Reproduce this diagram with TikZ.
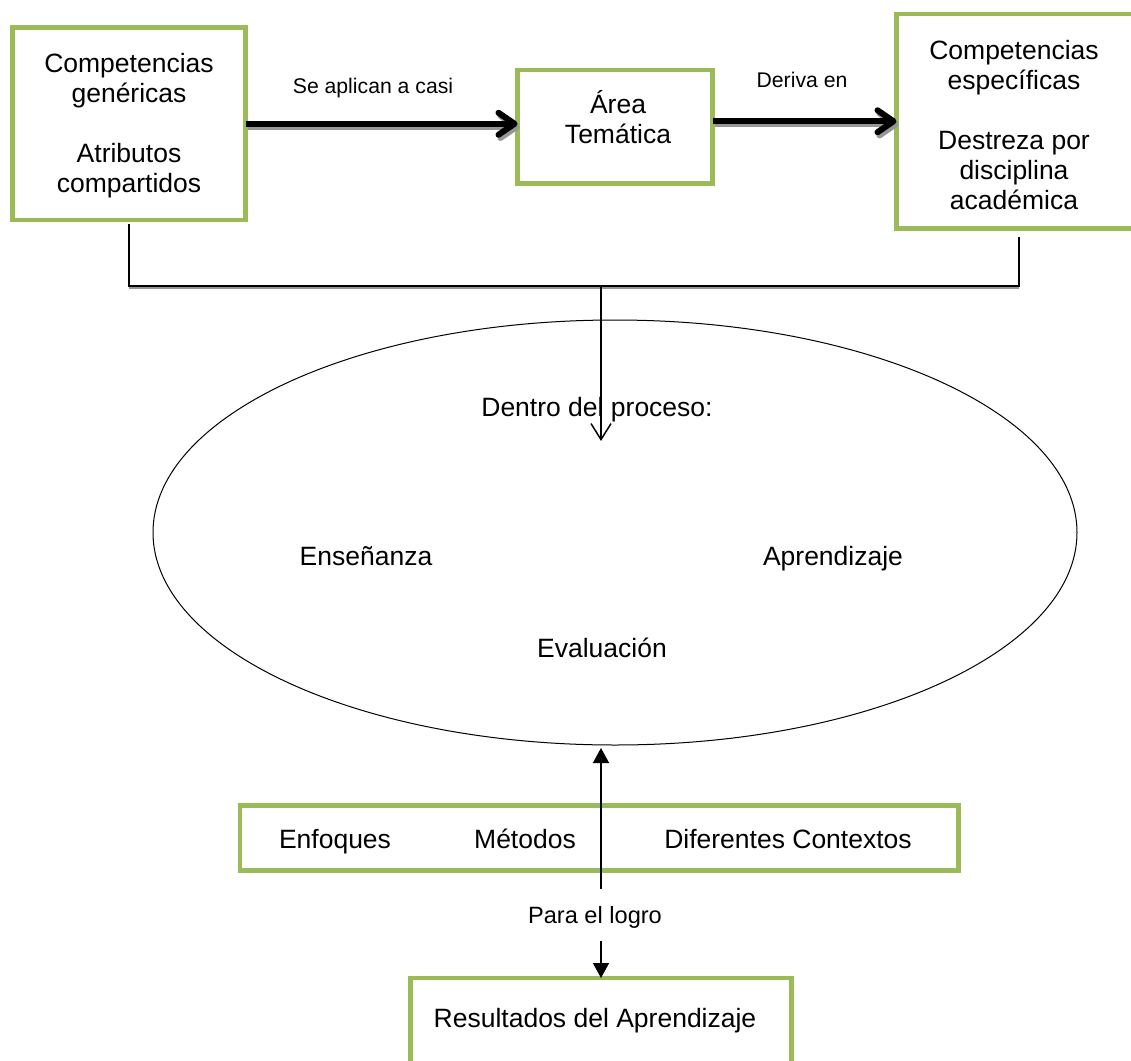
\documentclass[tikz,border=0pt]{standalone}
\usepackage{fontspec}
\setmainfont{Liberation Sans}
\usetikzlibrary{arrows.meta,shapes.geometric}
\definecolor{boxgreen}{RGB}{155,187,89}
\definecolor{shadowgray}{RGB}{150,150,150}
\begin{document}
\begin{tikzpicture}[x=0.5pt,y=-0.5pt,
  box/.style={draw=boxgreen, line width=2.25pt, rectangle, inner sep=0pt, outer sep=0pt},
  big/.style={font=\fontsize{13.25}{15}\selectfont, inner sep=0pt, align=center},
  small/.style={font=\fontsize{10.6}{12}\selectfont, inner sep=0pt},
  oneline/.style={text height=0.72em, text depth=0.21em},
  fatarrow/.style={line width=3pt, -{Straight Barb[length=8pt,width=11pt,round]}},
  fatshadow/.style={fatarrow, draw=shadowgray, transform canvas={shift={(1pt,-1.6pt)}}},
  thinline/.style={line width=0.75pt},
  openarrow/.style={thinline, -{Straight Barb[length=8pt,width=10pt]}},
  solidarrow/.style={thinline, -{Triangle[length=7.5pt,width=8pt]}},
]
\useasboundingbox (0,0) rectangle (1131,1061);
\clip (0,0) rectangle (1131,1061);

% boxes
\node[box, minimum width=116.5pt, minimum height=96.25pt] (A) at (129,123.75) {};
\node[box, minimum width=97.5pt, minimum height=56.75pt] (B) at (615,126.75) {};
\node[box, minimum width=122.5pt, minimum height=107.25pt] (C) at (1019,121.25) {};
\node[box, minimum width=359.25pt, minimum height=32.5pt] (D) at (599.25,838) {};
\node[box, minimum width=190.5pt, minimum height=50pt] (R) at (601,1028) {};
\node[draw, ellipse, line width=0.5pt, minimum width=462pt, minimum height=212.5pt, inner sep=0pt] (E) at (615,532.5) {};

% box texts
\node[big] (tA) at (129,126) {Competencias\\genéricas\\[15pt]Atributos\\compartidos};
\node[big] (tB) at (618,117) {Área\\Temática};
\node[big] (tC) at (1014,125) {Competencias\\específicas\\[15pt]Destreza por\\disciplina\\académica};
\node[big, oneline] (tD1) at (335,843) {Enfoques};
\node[big, oneline] (tD2) at (525,843) {Métodos};
\node[big, oneline] (tD3) at (788,843) {Diferentes Contextos};
\node[big, oneline] (tR) at (595,1022) {Resultados del Aprendizaje};

% ellipse texts
\node[big, oneline] (tE1) at (597,411) {Dentro del proceso:};
\node[big, oneline] (tE2) at (366,560) {Enseñanza};
\node[big, oneline] (tE3) at (833,560) {Aprendizaje};
\node[big, oneline] (tE4) at (602,652) {Evaluación};

% connector labels
\node[small, oneline] (l1) at (373,88) {Se aplican a casi};
\node[small, oneline] (l2) at (802,82) {Deriva en};
\node[small, oneline, font=\fontsize{11.8}{13}\selectfont] (l3) at (595,918) {Para el logro};

% thick arrows with shadow
\draw[fatshadow] (A.east) -- (A.east -| B.west);
\draw[fatarrow] (A.east) -- (A.east -| B.west);
\draw[fatshadow] (B.east |- C.west) -- (C.west);
\draw[fatarrow] (B.east |- C.west) -- (C.west);

% bracket into ellipse
\coordinate (j) at (601,286);
\coordinate (tipdown) at (601,441);
\draw[shadowgray, line width=0.6pt] (129,288) -- (1019,288);
\draw[thinline, shorten <=2pt] (A.south) |- (j) -| ([yshift=-4pt]C.south);
\draw[openarrow] (j) -- (tipdown);

% arrows through box D
\coordinate (upstart) at (601,889);
\coordinate (uptip) at (601,748);
\draw[solidarrow] (upstart) -- (uptip);
\coordinate (downstart) at (601,941);
\draw[solidarrow] (downstart) -- (R.north);
\end{tikzpicture}
\end{document}
